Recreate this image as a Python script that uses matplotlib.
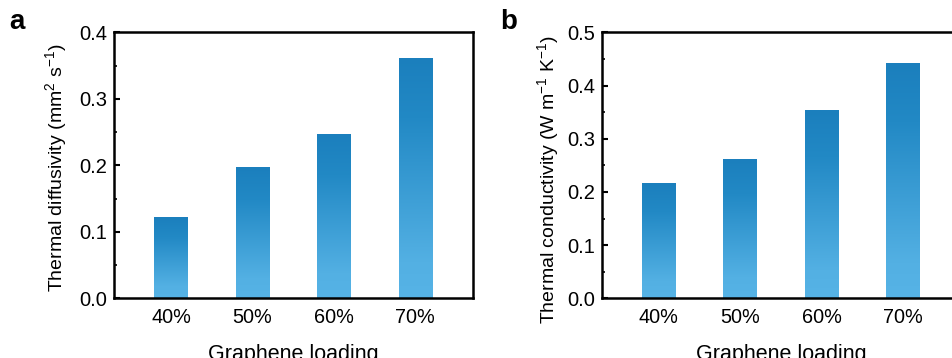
import numpy as np
import matplotlib
matplotlib.use("Agg")
import matplotlib.pyplot as plt
from matplotlib.colors import LinearSegmentedColormap
from matplotlib.ticker import MultipleLocator

plt.rcParams['font.family'] = ['Liberation Sans', 'DejaVu Sans']
plt.rcParams['mathtext.fontset'] = 'custom'
plt.rcParams['mathtext.rm'] = 'Liberation Sans'
plt.rcParams['mathtext.it'] = 'Liberation Sans:italic'
plt.rcParams['mathtext.bf'] = 'Liberation Sans:bold'

categories = ['40%', '50%', '60%', '70%']
diffusivity = [0.121, 0.196, 0.246, 0.360]
conductivity = [0.216, 0.260, 0.352, 0.441]

W, H = 952, 358
fig = plt.figure(figsize=(W / 100, H / 100), dpi=100)

cmap = LinearSegmentedColormap.from_list(
    'grad', [(0.0, '#56b3e6'), (0.15, '#53b0e3'), (0.75, '#2289c5'), (1.0, '#1b7fbd')])

def panel(rect, values, ymax, ylabel, letter, letter_x, label_y, labelpad):
    ax = fig.add_axes(rect)
    x = np.arange(len(categories))
    bars = ax.bar(x, values, width=0.41, color='none', edgecolor='none', zorder=3)
    grad = np.linspace(0, 1, 256).reshape(-1, 1)
    for b in bars:
        x0, y0 = b.get_x(), b.get_y()
        ax.imshow(grad, extent=[x0, x0 + b.get_width(), y0, y0 + b.get_height()],
                  origin='lower', aspect='auto', cmap=cmap, zorder=2, interpolation='bilinear')
    ax.set_xlim(-0.70, 3.71)
    ax.set_ylim(0, ymax)
    ax.set_xticks(x)
    ax.set_xticklabels(categories)
    ax.yaxis.set_major_locator(MultipleLocator(0.1))
    ax.yaxis.set_minor_locator(MultipleLocator(0.05))
    ax.yaxis.set_major_formatter(matplotlib.ticker.FormatStrFormatter('%.1f'))
    ax.tick_params(axis='y', which='major', direction='in', length=4, width=1.5, labelsize=14.5, pad=5)
    ax.tick_params(axis='y', which='minor', direction='in', length=2.5, width=1.2)
    ax.tick_params(axis='x', length=0, labelsize=14.3, pad=7)
    for s in ax.spines.values():
        s.set_linewidth(1.8)
    ax.set_xlabel('Graphene loading', fontsize=15.5, labelpad=12)
    ax.set_ylabel(ylabel, fontsize=14, labelpad=labelpad)
    ax.yaxis.label.set_y(label_y)
    fig.text(letter_x, 1 - 29 / H, letter, fontsize=20, fontweight='bold', ha='left', va='baseline')
    return ax

bottom = (H - 298.3) / H
height = (298.3 - 32.3) / H
panel([114 / W, bottom, 359 / W, height], diffusivity, 0.4,
      r'Thermal diffusivity (mm$^{2}$ s$^{\mathregular{-1}}$)', 'a', 9 / W, 0.49, 7)
panel([601.7 / W, bottom, 359 / W, height], conductivity, 0.5,
      r'Thermal conductivity (W m$^{\mathregular{-1}}$ K$^{\mathregular{-1}}$)', 'b', 500 / W, 0.445, 4)

fig.savefig('out.png', dpi=100)
